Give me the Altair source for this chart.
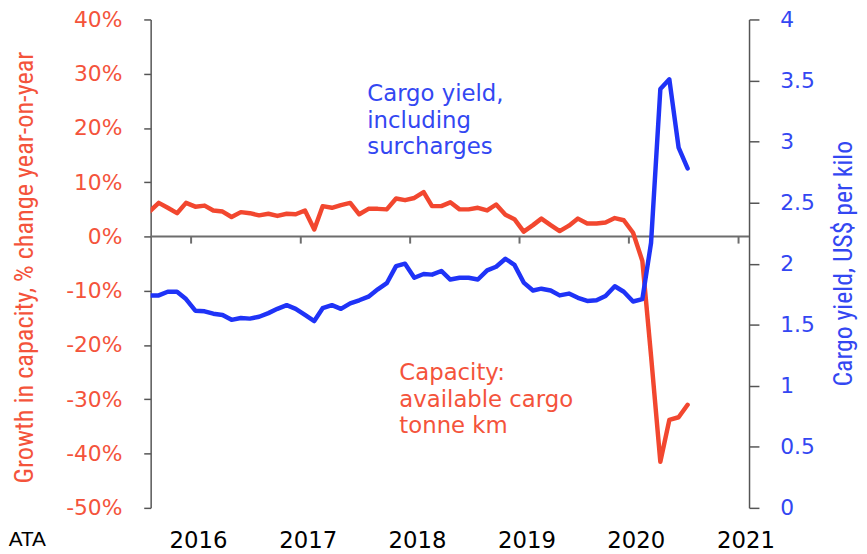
import altair as alt
import pandas as pd

# ---- data (monthly, mid-month) ----
months = [f"{y}-{m:02d}-15T00:00:00" for y in range(2015, 2021) for m in range(1, 13)]
months = months[7:7 + 60]  # Aug 2015 .. Jul 2020

capacity = [4.6, 6.2, 5.3, 4.3, 6.2,
            5.5, 5.7, 4.8, 4.6, 3.6, 4.5, 4.3, 3.9, 4.2, 3.8, 4.2, 4.1,
            4.8, 1.3, 5.6, 5.3, 5.8, 6.2, 4.1, 5.1, 5.1, 5.0, 7.0, 6.7,
            7.1, 8.2, 5.6, 5.6, 6.3, 5.0, 5.0, 5.3, 4.8, 5.9, 4.0, 3.2,
            0.9, 2.1, 3.3, 2.1, 1.0, 2.0, 3.3, 2.4, 2.4, 2.6, 3.4, 3.0,
            0.7, -4.5, -22.0, -41.5, -33.8, -33.3, -31.0]

cargo_yield = [1.74, 1.74, 1.77, 1.77, 1.71,
               1.615, 1.61, 1.59, 1.58, 1.54, 1.555, 1.55, 1.565, 1.595, 1.63, 1.66, 1.63,
               1.58, 1.53, 1.635, 1.66, 1.63, 1.675, 1.70, 1.73, 1.79, 1.84, 1.98, 2.00,
               1.885, 1.915, 1.91, 1.94, 1.87, 1.885, 1.885, 1.87, 1.945, 1.975, 2.04, 1.99,
               1.845, 1.78, 1.795, 1.78, 1.74, 1.755, 1.72, 1.695, 1.70, 1.735, 1.815, 1.77,
               1.69, 1.71, 2.17, 3.43, 3.51, 2.95, 2.78]

years = [2016, 2017, 2018, 2019, 2020, 2021]
left_ticks = [-50, -40, -30, -20, -10, 0, 10, 20, 30, 40]
right_ticks = [0, 0.5, 1, 1.5, 2, 2.5, 3, 3.5, 4]

df = pd.DataFrame({"date": months, "capacity": capacity, "yield": cargo_yield})
df_years = pd.DataFrame({"yr": [f"{y}-01-01T00:00:00" for y in years]})
df_one = pd.DataFrame({"z": [0]})

RED = "#f2472f"
REDT = "#f4533b"
BLUE = "#1f33f7"
BLUET = "#3347f2"
AX = "#555555"
NARROW = "Liberation Sans Narrow, Roboto Condensed, Arial Narrow, sans-serif"

xscale = alt.Scale(domain=[alt.DateTime(year=2015, month=8, date=19),
                           alt.DateTime(year=2021, month=2, date=5)])

def lscale():
    return alt.Scale(domain=[-50, 40], nice=False, zero=False)

rscale = alt.Scale(domain=[0, 4], nice=False)

xaxis = alt.Axis(orient="bottom", values=[alt.DateTime(year=y, month=1, date=1) for y in years],
                 format="%Y", labelOffset=7, domain=False, ticks=False, grid=False,
                 labelFont="DejaVu Sans", labelFontSize=23, labelColor="black",
                 labelPadding=22, labelAngle=0, title=None)

laxis = alt.Axis(orient="left", values=left_ticks, labelExpr="datum.value + '%'", labelColor=REDT,
                 labelFont="DejaVu Sans", labelFontSize=22, labelPadding=22,
                 tickSize=7, tickColor=AX, tickWidth=1.5, domainColor=AX, domainWidth=1.5,
                 grid=False, title="Growth in capacity, % change year-on-year",
                 titleColor=REDT, titleFont=NARROW,
                 titleFontSize=26.5, titleFontWeight="normal", titleX=-127, titleY=250,
                 titleAngle=270, titleBaseline="middle", titleAlign="center")

raxis = alt.Axis(orient="right", values=right_ticks, format="~g", labelColor=BLUET,
                 labelFont="DejaVu Sans", labelFontSize=22, labelPadding=21,
                 tickSize=10, tickColor=AX, tickWidth=1.5, domainColor=AX, domainWidth=1.5,
                 grid=False, title="Cargo yield, US$ per kilo",
                 titleColor=BLUET, titleFont=NARROW,
                 titleFontSize=26, titleFontWeight="normal", titleX=95, titleY=246,
                 titleAngle=270, titleBaseline="middle", titleAlign="center")

zero_line = alt.Chart(df_one).mark_rule(color="#6d6d6d", strokeWidth=2).encode(
    y=alt.Y("z:Q", scale=lscale(), axis=None))

year_ticks = alt.Chart(df_years).mark_rule(color="#6d6d6d", strokeWidth=2).encode(
    x=alt.X("yr:T", scale=xscale, axis=None),
    y=alt.YDatum(0, scale=lscale(), axis=None),
    y2=alt.datum(-1.3))

red_line = alt.Chart(df).mark_line(color=RED, strokeWidth=4.5, clip=True,
                                   strokeJoin="round", strokeCap="round").encode(
    x=alt.X("date:T", scale=xscale, axis=xaxis),
    y=alt.Y("capacity:Q", scale=lscale(), axis=laxis))

blue_line = alt.Chart(df).mark_line(color=BLUE, strokeWidth=4.5, clip=True,
                                    strokeJoin="round", strokeCap="round").encode(
    x=alt.X("date:T", scale=xscale, axis=None),
    y=alt.Y("yield:Q", scale=rscale, axis=raxis))

TFONT = "DejaVu Sans"
blue_text = alt.Chart(df_one).mark_text(
    text=["Cargo yield,", "including", "surcharges"], align="left", baseline="alphabetic",
    font=TFONT, fontSize=23, lineHeight=27, color=BLUET).encode(
    x=alt.XDatum(alt.DateTime(year=2017, month=8, date=11), type="temporal", scale=xscale, axis=None),
    y=alt.YDatum(25.0, scale=lscale(), axis=None))

red_text = alt.Chart(df_one).mark_text(
    text=["Capacity:", "available cargo", "tonne km"], align="left", baseline="alphabetic",
    font=TFONT, fontSize=23, lineHeight=27, color=REDT).encode(
    x=alt.XDatum(alt.DateTime(year=2017, month=11, date=26), type="temporal", scale=xscale, axis=None),
    y=alt.YDatum(-26.4, scale=lscale(), axis=None))

source_text = alt.Chart(df_one).mark_text(
    text="ATA", align="left", baseline="alphabetic",
    font="Liberation Sans", fontSize=21, color="black").encode(
    x=alt.XDatum(alt.DateTime(year=2014, month=5, date=2), type="temporal", scale=xscale, axis=None),
    y=alt.YDatum(-57.1, scale=lscale(), axis=None))

chart = alt.layer(zero_line, year_ticks, red_line, blue_line,
                  blue_text, red_text, source_text).resolve_scale(
    y="independent").resolve_axis(x="independent", y="independent").properties(
    width=604, height=493,
    padding={"left": 144, "top": 9, "right": 111, "bottom": 44},
    autosize=alt.AutoSizeParams(type="none"),
).configure_view(stroke=None)

chart.save("out.html", embed_options={"renderer": "svg", "actions": False})
